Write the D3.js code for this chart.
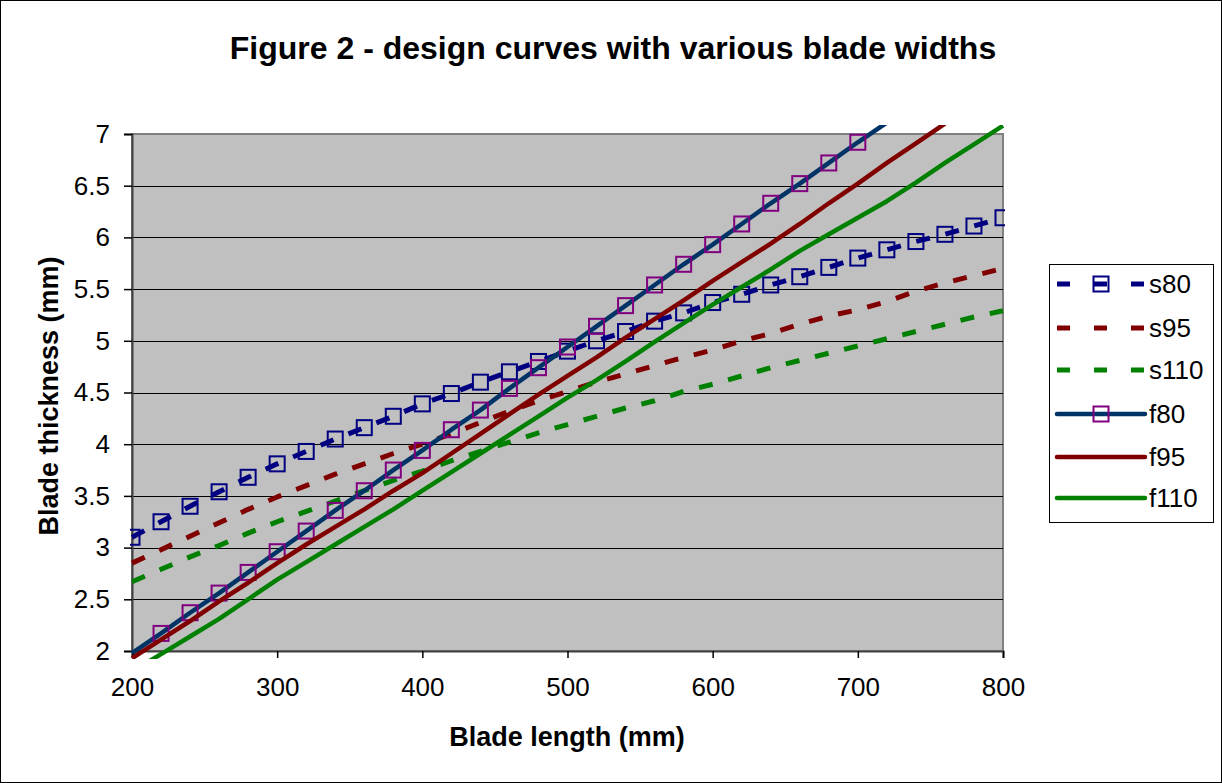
<!DOCTYPE html>
<html>
<head>
<meta charset="utf-8">
<script src="https://cdn.jsdelivr.net/npm/d3@7"></script>
<style>
  html, body { margin: 0; padding: 0; background: #fff; }
  svg { display: block; font-family: Arial, "Liberation Sans", sans-serif; }
</style>
</head>
<body>
<svg id="chart" width="1222" height="783"></svg>
<script>
// ---- data ----
const bladeLength = [200,220,240,260,280,300,320,340,360,380,400,420,440,460,480,500,520,540,560,580,600,620,640,660,680,700,720,740,760,780,800];
const s80  = [3.10,3.25,3.40,3.54,3.68,3.81,3.93,4.05,4.16,4.27,4.39,4.49,4.60,4.70,4.80,4.90,5.00,5.09,5.19,5.27,5.37,5.45,5.54,5.62,5.71,5.80,5.88,5.96,6.03,6.11,6.19];
const s95  = [2.85,2.98,3.11,3.24,3.37,3.49,3.60,3.71,3.81,3.91,4.00,4.10,4.21,4.32,4.42,4.51,4.60,4.68,4.76,4.84,4.91,5.00,5.07,5.16,5.24,5.30,5.38,5.48,5.56,5.63,5.70];
const s110 = [2.67,2.79,2.91,3.02,3.14,3.25,3.35,3.45,3.55,3.65,3.74,3.84,3.93,4.02,4.11,4.19,4.27,4.35,4.42,4.51,4.58,4.66,4.74,4.81,4.88,4.95,5.02,5.09,5.16,5.23,5.29];
const f80  = [1.98,2.17,2.37,2.56,2.76,2.96,3.16,3.36,3.55,3.75,3.94,4.14,4.33,4.54,4.74,4.94,5.14,5.34,5.54,5.74,5.93,6.13,6.33,6.52,6.72,6.92,7.11];
const f95  = [1.93,2.11,2.29,2.48,2.66,2.85,3.03,3.20,3.37,3.55,3.72,3.91,4.10,4.29,4.48,4.66,4.84,5.03,5.21,5.39,5.58,5.76,5.94,6.13,6.33,6.52,6.72,6.91,7.10];
const f110 = [1.80,1.97,2.14,2.31,2.50,2.69,2.86,3.03,3.20,3.37,3.55,3.73,3.91,4.09,4.27,4.45,4.62,4.80,4.99,5.17,5.35,5.52,5.69,5.87,6.03,6.19,6.35,6.53,6.72,6.90,7.08];
const xTicks = [200,300,400,500,600,700,800];
const yTicks = [2,2.5,3,3.5,4,4.5,5,5.5,6,6.5,7];

const seriesNames  = ["s80","s95","s110","f80","f95","f110"];
const seriesValues = [s80, s95, s110, f80, f95, f110];
const lineColors   = ["#000080","#800000","#008000","#003366","#800000","#008000"];
const dashed       = [true, true, true, false, false, false];
const markerColors = ["#000080", null, null, "#800080", null, null];

const titleText = "Figure 2 - design curves with various blade widths";
const xTitle = "Blade length (mm)";
const yTitle = "Blade thickness (mm)";

// ---- layout ----
const svg = d3.select("#chart");
const W = 1222, H = 783;
const plot = {left: 132, right: 1003, top: 134, bottom: 651};
const FONT = "Arial, 'Liberation Sans', sans-serif";

const x = d3.scaleLinear().domain([200, 800]).range([plot.left, plot.right]);
const y = d3.scaleLinear().domain([2, 7]).range([plot.bottom, plot.top]);

// outer border
svg.append("rect").attr("x", 0.5).attr("y", 0.5).attr("width", W - 1).attr("height", H - 1)
  .attr("fill", "#fff").attr("stroke", "#000").attr("stroke-width", 1);

// title
svg.append("text").attr("x", 613).attr("y", 59).attr("text-anchor", "middle")
  .attr("font-size", 32).attr("font-weight", "bold").text(titleText);

// plot background
svg.append("rect").attr("x", plot.left).attr("y", plot.top)
  .attr("width", plot.right - plot.left).attr("height", plot.bottom - plot.top)
  .attr("fill", "#C0C0C0").attr("stroke", "#808080").attr("stroke-width", 2);

// gridlines
svg.append("g").selectAll("line").data(yTicks.filter(t => t > 2 && t < 7)).join("line")
  .attr("x1", plot.left).attr("x2", plot.right)
  .attr("y1", d => Math.round(y(d)) + 0.5).attr("y2", d => Math.round(y(d)) + 0.5)
  .attr("stroke", "#000").attr("stroke-width", 1);

// axes
const yAxis = d3.axisLeft(y).tickValues(yTicks).tickSize(8).tickPadding(14)
  .tickFormat(d => d3.format("")(d));
const gy = svg.append("g").attr("transform", `translate(${plot.left},0)`).call(yAxis);
gy.select(".domain").attr("stroke", "#404040").attr("stroke-width", 2);
gy.selectAll(".tick line").attr("stroke", "#000").attr("stroke-width", 1.5);
gy.selectAll(".tick text").attr("font-size", 26).attr("fill", "#000").attr("font-family", FONT);

const xAxis = d3.axisBottom(x).tickValues(xTicks).tickSize(7).tickPadding(20);
const gx = svg.append("g").attr("transform", `translate(0,${plot.bottom})`).call(xAxis);
gx.select(".domain").attr("stroke", "#404040").attr("stroke-width", 2);
gx.selectAll(".tick line").attr("stroke", "#000").attr("stroke-width", 1.5);
gx.selectAll(".tick text").attr("font-size", 26).attr("fill", "#000").attr("font-family", FONT);

// axis titles
svg.append("text").attr("x", 567).attr("y", 746).attr("text-anchor", "middle")
  .attr("font-size", 27).attr("font-weight", "bold").text(xTitle);
svg.append("text").attr("transform", "translate(58,396) rotate(-90)").attr("text-anchor", "middle")
  .attr("font-size", 27).attr("font-weight", "bold").text(yTitle);

// clip
svg.append("clipPath").attr("id", "clip").append("rect")
  .attr("x", plot.left - 2).attr("y", 125).attr("width", plot.right - plot.left + 4).attr("height", 659 - 125);

const lineGen = d3.line().x(d => x(d[0])).y(d => y(d[1]));
const series = svg.append("g").attr("clip-path", "url(#clip)");

seriesValues.forEach((vals, i) => {
  const pts = vals.map((v, j) => [bladeLength[j], v]);
  series.append("path").datum(pts)
    .attr("d", lineGen).attr("fill", "none")
    .attr("stroke", lineColors[i]).attr("stroke-width", dashed[i] ? 5 : 4.5)
    .attr("stroke-linejoin", "round")
    .attr("stroke-dasharray", dashed[i] ? "14,16" : null);
  if (markerColors[i]) {
    series.append("g").selectAll("rect").data(pts.filter(p => p[1] >= 2.05 && p[1] <= 7)).join("rect")
      .attr("x", d => x(d[0]) - 7.5).attr("y", d => y(d[1]) - 7.5)
      .attr("width", 15).attr("height", 15)
      .attr("fill", "none").attr("stroke", markerColors[i]).attr("stroke-width", 2);
  }
});

// legend
const lg = svg.append("g");
lg.append("rect").attr("x", 1049.5).attr("y", 264.5).attr("width", 164).attr("height", 258)
  .attr("fill", "#fff").attr("stroke", "#000").attr("stroke-width", 1);
const legendY = [284, 328, 370, 414, 457, 498];
seriesNames.forEach((name, i) => {
  const cy = legendY[i];
  lg.append("line").attr("x1", 1057).attr("x2", 1145).attr("y1", cy).attr("y2", cy)
    .attr("stroke", lineColors[i]).attr("stroke-width", dashed[i] ? 5 : 4.5)
    .attr("stroke-linecap", dashed[i] ? "butt" : "round")
    .attr("stroke-dasharray", dashed[i] ? "13,24" : null);
  if (markerColors[i]) {
    lg.append("rect").attr("x", 1101 - 7.5).attr("y", cy - 7.5).attr("width", 15).attr("height", 15)
      .attr("fill", "none").attr("stroke", markerColors[i]).attr("stroke-width", 2);
  }
  lg.append("text").attr("x", 1149).attr("y", cy + 9).attr("font-size", 26).text(name);
});
</script>
</body>
</html>
